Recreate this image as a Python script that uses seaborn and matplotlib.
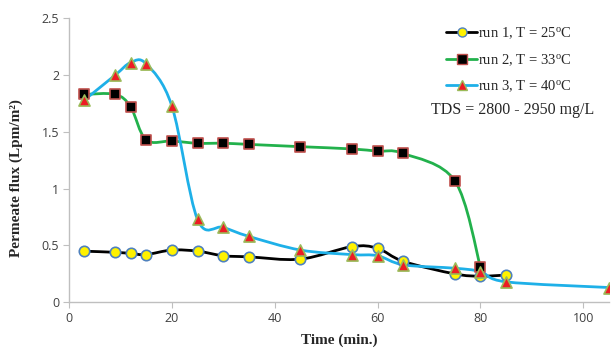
import numpy as np
import pandas as pd
import matplotlib
matplotlib.use("Agg")
import matplotlib.pyplot as plt
from matplotlib.path import Path
from matplotlib.patches import PathPatch
from matplotlib.lines import Line2D
import seaborn as sns

# ---- data ----
t1 = [3, 9, 12, 15, 20, 25, 30, 35, 45, 55, 60, 65, 75, 80, 85]
f1 = [0.45, 0.44, 0.43, 0.42, 0.46, 0.45, 0.41, 0.40, 0.38, 0.49, 0.475, 0.36, 0.25, 0.23, 0.24]
t2 = [3, 9, 12, 15, 20, 25, 30, 35, 45, 55, 60, 65, 75, 80]
f2 = [1.83, 1.83, 1.72, 1.43, 1.42, 1.40, 1.40, 1.39, 1.37, 1.35, 1.33, 1.31, 1.07, 0.31]
t3 = [3, 9, 12, 15, 20, 25, 30, 35, 45, 55, 60, 65, 75, 80, 85, 105]
f3 = [1.78, 2.00, 2.11, 2.10, 1.73, 0.73, 0.66, 0.58, 0.46, 0.42, 0.41, 0.33, 0.30, 0.27, 0.18, 0.13]
labels = ["run 1, T = 25$^{\\rm o}$C", "run 2, T = 33$^{\\rm o}$C", "run 3, T = 40$^{\\rm o}$C"]
xticks = [0, 20, 40, 60, 80, 100]
yticks = [0, 0.5, 1, 1.5, 2, 2.5]
ytick_labels = ["0", "0.5", "1", "1.5", "2", "2.5"]

sns.set_style("white")
plt.rcParams["mathtext.fontset"] = "custom"
plt.rcParams["mathtext.rm"] = "Liberation Serif"
plt.rcParams["mathtext.it"] = "Liberation Serif:italic"
plt.rcParams["mathtext.bf"] = "Liberation Serif:bold"

fig = plt.figure(figsize=(6.14, 3.5), dpi=100)
ax = fig.add_axes([0.1122, 0.1363, 0.8798, 0.8114])

line_colors = ["#000000", "#22B14C", "#1EB0E8"]
face_colors = ["#FFF200", "#000000", "#ED1C24"]
edge_colors = ["#4F81BD", "#C0504D", "#9BBB59"]
markers = ["o", "s", "^"]
msizes = [7.5, 7.5, 8.0]


def smooth_path(x, y):
    x = np.asarray(x, float)
    y = np.asarray(y, float)
    n = len(x)
    P = np.column_stack([x, y])
    verts = [P[0]]
    codes = [Path.MOVETO]
    for i in range(n - 1):
        p0 = P[i - 1] if i > 0 else P[i]
        p1 = P[i]
        p2 = P[i + 1]
        p3 = P[i + 2] if i + 2 < n else P[i + 1]
        c1 = p1 + (p2 - p0) / 6.0
        c2 = p2 - (p3 - p1) / 6.0
        verts += [c1, c2, p2]
        codes += [Path.CURVE4] * 3
    return Path(verts, codes)


series = [(t1, f1), (t2, f2), (t3, f3)]
for i, (t, f) in enumerate(series):
    patch = PathPatch(smooth_path(t, f), facecolor="none", edgecolor=line_colors[i],
                      lw=2.0, zorder=2, capstyle="round", joinstyle="round")
    ax.add_patch(patch)

for i, (t, f) in enumerate(series):
    df = pd.DataFrame({"t": t, "f": f})
    sns.scatterplot(data=df, x="t", y="f", ax=ax, marker=markers[i],
                    s=msizes[i] ** 2, color=face_colors[i], edgecolor=edge_colors[i],
                    linewidth=1.2, zorder=3 + i, legend=False)

ax.set_xlim(0, 105)
ax.set_ylim(0, 2.5)
ax.set_xticks(xticks)
ax.set_yticks(yticks)
ax.set_yticklabels(ytick_labels)
for lab in ax.get_xticklabels() + ax.get_yticklabels():
    lab.set_fontfamily("Open Sans")
    lab.set_fontsize(9)
    lab.set_color("#404040")
ax.tick_params(axis="both", direction="out", length=4, width=0.8, color="#BFBFBF",
               pad=3, bottom=True, left=True)

for s in ["top", "right"]:
    ax.spines[s].set_visible(False)
for s in ["left", "bottom"]:
    ax.spines[s].set_color("#BFBFBF")
    ax.spines[s].set_linewidth(1.0)

ax.set_xlabel("Time (min.)", fontfamily="Liberation Serif", fontweight="bold", fontsize=11, labelpad=6)
ax.set_ylabel("Permeate flux (Lpm/m²)", fontfamily="Liberation Serif", fontweight="bold", fontsize=11, labelpad=8)
ax.yaxis.set_label_coords(-0.085, 0.437)

handles = [Line2D([0], [0], color=line_colors[i], lw=2, marker=markers[i],
                  markersize=6.5, markerfacecolor=face_colors[i],
                  markeredgecolor=edge_colors[i], markeredgewidth=1.0) for i in range(3)]
leg = ax.legend(handles, labels, loc="upper left", bbox_to_anchor=(0.688, 0.995), frameon=False,
                prop={"family": "Liberation Serif", "size": 10.5}, handlelength=2.1,
                handletextpad=0.1, labelspacing=0.75, borderaxespad=0)
ax.text(0.822, 0.677, "TDS = 2800 - 2950 mg/L", transform=ax.transAxes, ha="center", va="center",
        fontfamily="Liberation Serif", fontsize=11.5)

fig.savefig("out.png", dpi=100)
